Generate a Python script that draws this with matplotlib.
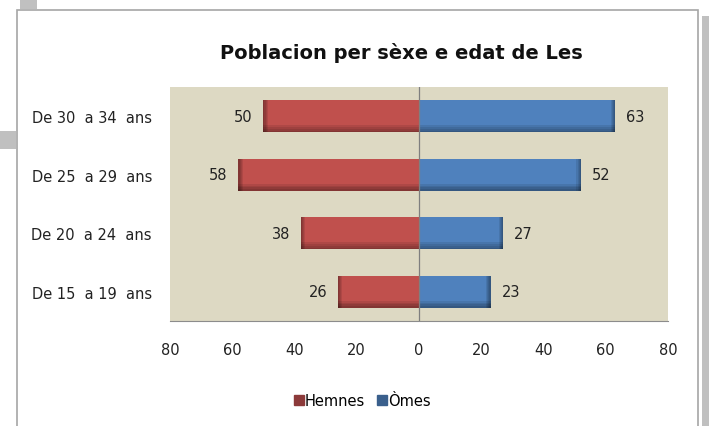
import matplotlib.pyplot as plt
from matplotlib.patches import Rectangle
import numpy as np

# dades
grops = ['De 15  a 19  ans', 'De 20  a 24  ans', 'De 25  a 29  ans', 'De 30  a 34  ans']
hemnes = [26, 38, 58, 50]
omes = [23, 27, 52, 63]
ticks = [-80, -60, -40, -20, 0, 20, 40, 60, 80]

red = '#C0504D'
blue = '#4F81BD'
plt.rcParams['font.family'] = ['DejaVu Sans']

fig = plt.figure(figsize=(7.09, 4.27), dpi=100)
W, H = 709, 427
ax = fig.add_axes([170 / W, 1 - 322 / H, 498 / W, 234 / H])
ax.set_facecolor('#DDD9C3')

y = np.arange(len(grops))
h = 0.55
neg = -np.array(hemnes)
pos = np.array(omes)

ax.barh(y, neg, height=h, color=red, zorder=3, label='Hemnes')
ax.barh(y, pos, height=h, color=blue, zorder=3, label='Òmes')

# efècte de relèu: bòrd de dejós e cap escurs
for k in range(4):
    a = 0.09
    d = 0.03 * (k + 1)
    ax.barh(y - h / 2 + d / 2, neg, height=d, color='black', alpha=a, lw=0, zorder=4)
    ax.barh(y - h / 2 + d / 2, pos, height=d, color='black', alpha=a, lw=0, zorder=4)
    wd = 0.35 * (k + 1)
    ax.barh(y, -np.full(len(y), wd), left=neg + wd, height=h, color='black', alpha=a, lw=0, zorder=4)
    ax.barh(y, np.full(len(y), wd), left=pos - wd, height=h, color='black', alpha=a, lw=0, zorder=4)

for yi, v in zip(y, hemnes):
    ax.text(-v - 3.5, yi, str(v), ha='right', va='center', fontsize=10.5, color='#222222')
for yi, v in zip(y, omes):
    ax.text(v + 3.5, yi, str(v), ha='left', va='center', fontsize=10.5, color='#222222')

ax.axvline(0, color='#7f7f7f', lw=0.9, zorder=5)
ax.set_xlim(-80, 80)
ax.set_ylim(-0.5, 3.5)
ax.set_xticks(ticks)
ax.set_xticklabels([str(abs(t)) for t in ticks], fontsize=10.5, color='#222222')
ax.set_yticks(y)
ax.set_yticklabels(grops, fontsize=10.5, color='#222222')
ax.tick_params(length=0, pad=13)
ax.tick_params(axis='x', pad=15)
for s in ['top', 'right', 'left']:
    ax.spines[s].set_visible(False)
ax.spines['bottom'].set_color('#8c8c8c')

fig.text(401 / W, 1 - 53 / H, 'Poblacion per sèxe e edat de Les', ha='center', va='center',
         fontsize=14, fontweight='bold', color='#111111')

hm = plt.Line2D([], [], marker='s', ls='', color='#8c3a3a', markersize=6.5)
om = plt.Line2D([], [], marker='s', ls='', color='#3a5f8c', markersize=6.5)
fig.legend([hm, om], ['Hemnes', 'Òmes'], loc='center', bbox_to_anchor=(362 / W, 1 - 402 / H),
           ncol=2, frameon=False, fontsize=10.5, handletextpad=0.0, columnspacing=0.8,
           handlelength=0.8)

# quadre del grafic e restes de la pagina
fig.add_artist(Rectangle((17 / W, -0.01), 681 / W, 1 - 11 / H + 0.01, transform=fig.transFigure,
                         fill=False, ec='#a6a6a6', lw=1.2))
fig.add_artist(Rectangle((20 / W, 1 - 10 / H), 17 / W, 10 / H, transform=fig.transFigure,
                         color='#c0c0c0', lw=0))
fig.add_artist(Rectangle((0, 1 - 150 / H), 16 / W, 18 / H, transform=fig.transFigure,
                         color='#c0c0c0', lw=0))
fig.add_artist(Rectangle((702 / W, 0), 7 / W, 1 - 17 / H, transform=fig.transFigure,
                         color='#c0c0c0', lw=0))

fig.savefig('out.png', dpi=100)
